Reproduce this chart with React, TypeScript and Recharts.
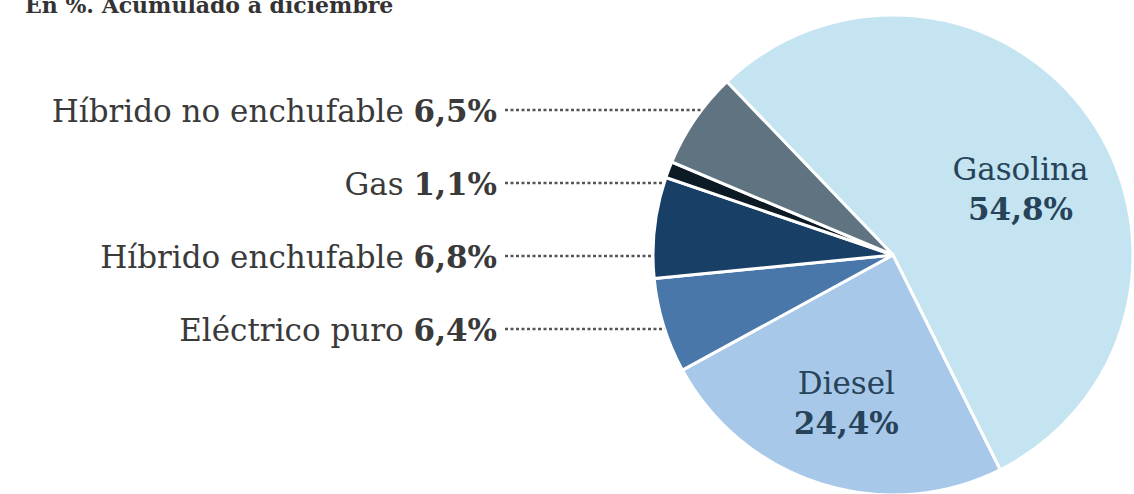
import { PieChart, Pie, Cell } from 'recharts'

// Matriculaciones por tipo de combustible, en %, acumulado a diciembre
const categories = ['Gasolina', 'Diesel', 'Eléctrico puro', 'Híbrido enchufable', 'Gas', 'Híbrido no enchufable']
const shares = [54.8, 24.4, 6.4, 6.8, 1.1, 6.5]
const shareLabels = ['54,8%', '24,4%', '6,4%', '6,8%', '1,1%', '6,5%']
const sliceColors = ['#c3e4f0', '#a8c8ea', '#4a77aa', '#183f66', '#0c1a26', '#5f7480']

const chartData = categories.map((name, i) => ({ name, value: shares[i], label: shareLabels[i] }))

const FONT = '"DejaVu Serif", serif'
const RAD = Math.PI / 180

function renderLabel(props: any) {
  const { cx, cy, midAngle, outerRadius, index, name } = props
  const label = shareLabels[index]

  // big slices: label inside the slice, two lines
  if (index < 2) {
    const r = outerRadius * 0.65
    const x = cx + r * Math.cos(-midAngle * RAD)
    let y = cy + r * Math.sin(-midAngle * RAD)
    if (index === 0) y += 25
    return (
      <text x={x} y={y} textAnchor="middle" fontFamily={FONT} fontSize={31} fill="#27435a">
        <tspan x={x} dy={-10}>{name}</tspan>
        <tspan x={x} dy={40} fontWeight="bold">{label}</tspan>
      </text>
    )
  }

  // small slices: stacked rows on the left with a dotted leader to the pie edge
  const row = 5 - index
  const rowY = cy - 145 + row * 73
  const textRight = cx - 396
  const dy = rowY - cy
  const edgeX = cx - Math.sqrt(outerRadius * outerRadius - dy * dy)
  return (
    <g>
      <line x1={textRight + 8} y1={rowY} x2={edgeX} y2={rowY} stroke="#555" strokeWidth={2.5} strokeDasharray="3 2.5" />
      <text x={textRight} y={rowY} dy={12} textAnchor="end" fontFamily={FONT} fontSize={31} fill="#3a3a3a">
        {name} <tspan fontWeight="bold">{label}</tspan>
      </text>
    </g>
  )
}

export default function App() {
  return (
    <div style={{ position: 'absolute', left: 0, top: 0, background: '#fff' }}>
      <PieChart width={1134} height={494} margin={{ top: 0, right: 0, bottom: 0, left: 0 }}>
        <text x={25} y={13} fontFamily={FONT} fontSize={22} fontWeight="bold" fill="#333">
          En %. Acumulado a diciembre
        </text>
        <Pie
          data={chartData}
          dataKey="value"
          nameKey="name"
          cx={893}
          cy={255}
          outerRadius={240}
          startAngle={133.8}
          endAngle={-226.2}
          stroke="#fff"
          strokeWidth={3}
          label={renderLabel}
          labelLine={false}
          isAnimationActive={false}
        >
          {chartData.map((d, i) => (
            <Cell key={d.name} fill={sliceColors[i]} />
          ))}
        </Pie>
      </PieChart>
    </div>
  )
}
